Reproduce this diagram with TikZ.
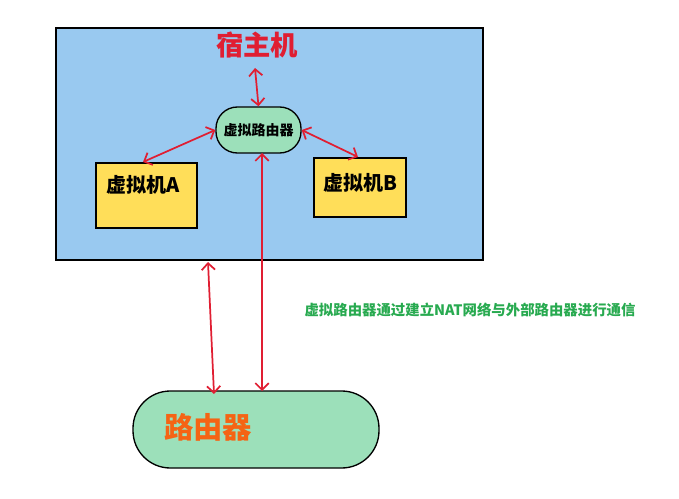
\documentclass[tikz,border=0pt]{standalone}
\usepackage{fontspec}
\setmainfont{Noto Sans CJK SC}
\usetikzlibrary{arrows.meta}
\definecolor{hostblue}{RGB}{153,201,240}
\definecolor{boxyellow}{RGB}{255,222,89}
\definecolor{routergreen}{RGB}{156,224,186}
\definecolor{linkred}{RGB}{224,30,50}
\definecolor{noteGreen}{RGB}{40,170,80}
\definecolor{titleorange}{RGB}{245,100,20}
\tikzset{
  link/.style={draw=linkred, line width=1.3pt, {Straight Barb[length=5pt]}-{Straight Barb[length=5pt]}},
  vmbox/.style={draw, line width=1pt, fill=boxyellow, minimum width=75.75pt, minimum height=48.75pt},
  vmlabel/.style={anchor=west, inner sep=0pt, font=\bfseries\fontsize{15}{15}\selectfont},
}
\begin{document}
\begin{tikzpicture}[x=0.75pt,y=0.75pt,yscale=-1,xscale=1]
\useasboundingbox (0,0) rectangle (679,499);
%host machine
\draw [fill=hostblue, line width=1pt] (56,28) rectangle (483,260);
\node (host) at (257,45) [text=linkred, font=\bfseries\fontsize{20.5}{20.5}\selectfont] {宿主机};
%virtual router
\node (vrouter) at (258.5,130) [draw, line width=1pt, fill=routergreen, rounded corners=16pt, minimum width=63.75pt, minimum height=34.5pt, inner sep=1pt, font=\bfseries\fontsize{10.5}{10.5}\selectfont] {虚拟路由器};
%virtual machines
\node (vmA) at (146.5,195.5) [vmbox] {};
\node (vmAlabel) at (106,185) [vmlabel] {虚拟机A};
\node (vmB) at (360,187.5) [vmbox, minimum width=69pt, minimum height=44.25pt] {};
\node (vmBlabel) at (323,183) [vmlabel] {虚拟机B};
%router
\node (router) at (256,429.5) [draw, line width=1pt, fill=routergreen, rounded corners=28pt, minimum width=184.5pt, minimum height=57.75pt] {};
\node (routerlabel) at (208,427) [text=titleorange, font=\bfseries\fontsize{22}{22}\selectfont] {路由器};
%note
\node (note) at (470,310) [text=noteGreen, font=\bfseries\fontsize{10.8}{10.8}\selectfont] {虚拟路由器通过建立NAT网络与外部路由器进行通信};
%links
\coordinate (hostbottom) at (208,262);
\draw [link] (255,68) -- (vrouter.north);
\draw [link] (vrouter.west) -- (143,162);
\draw [link] (vrouter.east) -- (358,157);
\draw [link] (262,153) -- (262,391);
\draw [link] (hostbottom) -- (214,394);
\end{tikzpicture}
\end{document}
